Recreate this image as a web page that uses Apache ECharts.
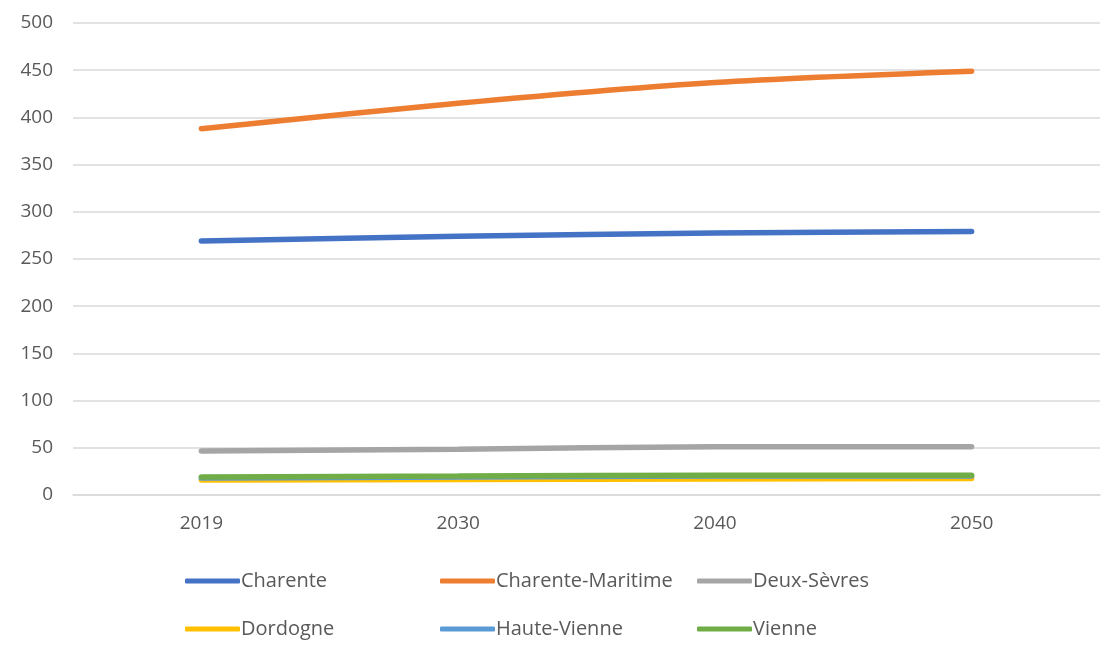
<!DOCTYPE html>
<html><head><meta charset="utf-8">
<script src="https://cdn.jsdelivr.net/npm/echarts@6/dist/echarts.min.js"></script>
<style>html,body{margin:0;padding:0;background:#fff}#c{width:1106px;height:649px}</style>
</head><body><div id="c"></div>
<script>
const years = ['2019','2030','2040','2050'];
const charente = [269, 274, 277.5, 279];
const charenteMaritime = [388, 415, 437, 449];
const deuxSevres = [46.5, 48.5, 51, 51];
const dordogne = [16, 16.5, 17, 17.5];
const hauteVienne = [18, 19, 20, 20];
const vienne = [19, 20, 21, 21];
const yTicks = [0, 50, 100, 150, 200, 250, 300, 350, 400, 450, 500];

const names = ['Charente','Charente-Maritime','Deux-Sèvres','Dordogne','Haute-Vienne','Vienne'];
const colors = ['#4472C4','#ED7D31','#A5A5A5','#FFC000','#5B9BD5','#70AD47'];
const values = [charente, charenteMaritime, deuxSevres, dordogne, hauteVienne, vienne];
const font = '"Open Sans", sans-serif';

const series = names.map((n, i) => ({
  name: n, type: 'line', data: values[i], smooth: 0.3, symbol: 'none',
  lineStyle: {color: colors[i], width: 5.5, cap: 'round'},
  itemStyle: {color: colors[i]}
}));

function legend(left, items) {
  return {
    left: left, top: 566, orient: 'vertical', itemGap: 28,
    data: items, icon: 'roundRect', itemWidth: 55, itemHeight: 5,
    textStyle: {fontFamily: font, fontSize: 20, color: '#595959', padding: [0,0,0,-4]}
  };
}

const chart = echarts.init(document.getElementById('c'));
chart.setOption({
  animation: false,
  grid: {left: 73, right: 6, top: 23, bottom: 154},
  xAxis: {
    type: 'category', data: years, boundaryGap: true,
    axisLine: {show: true, lineStyle: {color: '#d9d9d9', width: 1.5}},
    axisTick: {show: false},
    axisLabel: {fontFamily: font, fontSize: 19, color: '#595959', margin: 19}
  },
  yAxis: {
    type: 'value', min: yTicks[0], max: yTicks[yTicks.length-1], interval: 50,
    axisLine: {show: false}, axisTick: {show: false},
    splitLine: {lineStyle: {color: '#d9d9d9', width: 1.5}},
    axisLabel: {fontFamily: font, fontSize: 19, color: '#595959', margin: 20}
  },
  legend: [
    legend(180, ['Charente','Dordogne']),
    legend(435, ['Charente-Maritime','Haute-Vienne']),
    legend(692, ['Deux-Sèvres','Vienne'])
  ],
  series: series
});
</script></body></html>
